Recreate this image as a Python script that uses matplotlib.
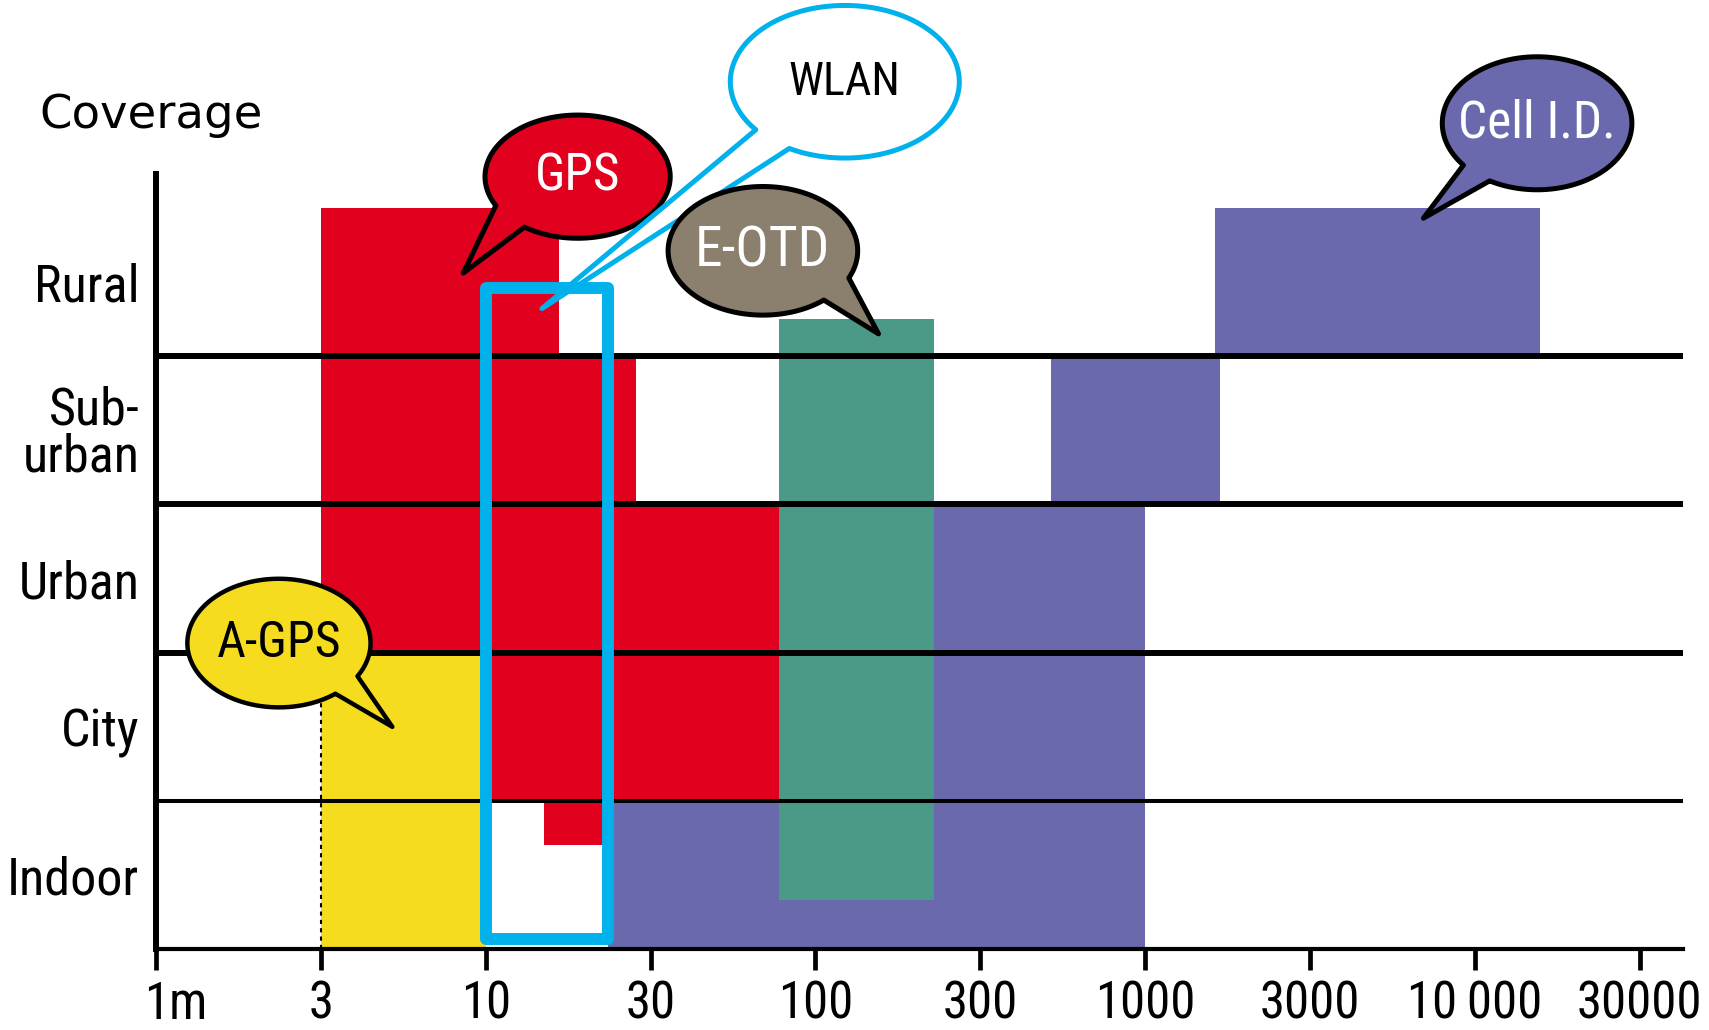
import numpy as np
import matplotlib
matplotlib.use("Agg")
import matplotlib.pyplot as plt
import matplotlib.transforms as mtransforms
from matplotlib import font_manager as fm
from matplotlib.patches import Polygon, Rectangle

# ---------------- data ----------------
band_labels = ["Indoor", "City", "Urban", "Sub-\nurban", "Rural"]
band_centers = [0.5, 1.5, 2.5, 3.5, 4.5]
band_lines = [1, 2, 3, 4]

tick_values = [1, 3.1623, 10, 31.623, 100, 316.23, 1000, 3162.3, 10000, 31623]
tick_labels = ["1m", "3", "10", "30", "100", "300", "1000", "3000", "10\u2009000", "30000"]

# GPS (red) coverage segments: accuracy range [x0, x1] per coverage band [y0, y1]
gps_x0 = [15.0, 10.0, 3.1623, 3.1623, 3.1623]
gps_x1 = [23.5, 78.0, 78.0, 28.5, 16.7]
gps_y0 = [0.706, 1.0, 2.0, 3.0, 4.0]
gps_y1 = [1.0, 2.0, 3.0, 4.0, 5.0]

# A-GPS (yellow)
agps_x0 = [3.1623]
agps_x1 = [10.0]
agps_y0 = [0.0]
agps_y1 = [2.0]

# Cell I.D. (purple)
cell_x0 = [23.5, 78.0, 518.0, 1630.0]
cell_x1 = [1000.0, 1000.0, 1690.0, 15800.0]
cell_y0 = [0.0, 1.0, 3.0, 4.0]
cell_y1 = [1.0, 3.0, 4.0, 5.0]

# E-OTD (teal)
eotd_x0 = [77.6]
eotd_x1 = [229.6]
eotd_y0 = [0.332]
eotd_y1 = [4.248]

# WLAN (blue outline)
wlan_x = [10.0, 23.5]
wlan_y = [0.07, 4.46]

# Callout bubbles: label, centre (data), tip (data)
bubble_names = ["GPS", "WLAN", "E-OTD", "Cell I.D.", "A-GPS"]
bubble_cx = [19.0, 122.8, 69.3, 15450.0, 2.36]
bubble_cy = [5.21, 5.85, 4.71, 5.57, 2.065]
bubble_tipx = [8.55, 14.8, 155.4, 6985.0, 5.21]
bubble_tipy = [4.56, 4.32, 4.15, 4.93, 1.50]

# ---------------- style ----------------
RED = "#E1001E"
YELLOW = "#F6DC1E"
PURPLE = "#6B69AD"
TEAL = "#4B9A88"
BROWN = "#8B7F6E"
BLUE = "#00B1EB"

names = {f.name for f in fm.fontManager.ttflist}
COND = None
for n in ["Liberation Sans Narrow", "Roboto Condensed", "Open Sans Condensed"]:
    if n in names:
        COND = n
        break
if COND is None:
    COND = "DejaVu Sans"
cond_font = dict(family=[COND, "DejaVu Sans"], stretch="condensed")

W, H = 1709, 1030
fig = plt.figure(figsize=(W / 100, H / 100), dpi=100)
fig.patch.set_facecolor("white")

ax = fig.add_axes([156 / W, 1 - 949.3 / H, 1527 / W, (949.3 - 174) / H])
ax.set_xscale("log")
ax.set_xlim(1, 10 ** ((1683 - 156) / 329.7))
ax.set_ylim(0, (949.3 - 174) / 148.3)


def draw_rects(x0, x1, y0, y1, color, z):
    for a, b, c, d in zip(x0, x1, y0, y1):
        ax.barh(c, b - a, left=a, height=d - c, align="edge",
                color=color, edgecolor="none", linewidth=0, zorder=z)


draw_rects(gps_x0, gps_x1, gps_y0, gps_y1, RED, 1)
draw_rects(agps_x0, agps_x1, agps_y0, agps_y1, YELLOW, 1)
draw_rects(cell_x0, cell_x1, cell_y0, cell_y1, PURPLE, 1)
draw_rects(eotd_x0, eotd_x1, eotd_y0, eotd_y1, TEAL, 2)

# dashed left edge of A-GPS
ax.plot([agps_x0[0], agps_x0[0]], [agps_y0[0], agps_y1[0]], color="black",
        lw=1.5, ls=(0, (2, 2)), zorder=3)

# band separators
band_lw = [2.9, 4.3, 4.3, 4.3]
for yv, lw in zip(band_lines, band_lw):
    ax.plot([1, ax.get_xlim()[1]], [yv, yv], color="black", lw=lw,
            solid_capstyle="butt", zorder=4)

# WLAN box
ax.add_patch(Rectangle((wlan_x[0], wlan_y[0]), wlan_x[1] - wlan_x[0],
                       wlan_y[1] - wlan_y[0], fill=False, edgecolor=BLUE,
                       lw=8.6, joinstyle="round", zorder=5))

# axes styling
for s in ["top", "right"]:
    ax.spines[s].set_visible(False)
ax.spines["left"].set_linewidth(4.3)
ax.spines["bottom"].set_linewidth(3.0)
ax.spines["left"].set_zorder(6)
ax.spines["bottom"].set_zorder(6)
ax.set_xticks(tick_values)
ax.set_xticklabels(tick_labels, fontsize=36.5, **cond_font)
ax.xaxis.set_minor_locator(matplotlib.ticker.NullLocator())
ax.tick_params(axis="x", direction="out", length=15, width=3.4, pad=7)
first = ax.get_xticklabels()[0]
first.set_horizontalalignment("left")
first.set_transform(first.get_transform() +
                    mtransforms.ScaledTranslation(-0.12, 0, fig.dpi_scale_trans))
ax.set_yticks(band_centers)
ax.set_yticklabels(band_labels, fontsize=37.5, **cond_font)
ax.tick_params(axis="y", length=0, pad=12)
for lbl in ax.get_yticklabels():
    lbl.set_linespacing(0.92)
ax.set_facecolor("none")

fig.text(39 / W, 1 - 128 / H, "Coverage", fontsize=33.5, family="DejaVu Sans",
         ha="left", va="baseline")

# ---------------- bubbles (overlay in pixel space) ----------------
ov = fig.add_axes([0, 0, 1, 1], zorder=10)
ov.set_xlim(0, W)
ov.set_ylim(H, 0)
ov.axis("off")
ov.patch.set_alpha(0)


def to_px(x, y):
    d = ax.transData.transform((x, y))
    return ov.transData.inverted().transform(d)


# per-bubble geometry (pixels): radii, tail base angles (deg, y-down), style
b_rx = [92.6, 114.5, 94.8, 94.8, 91.6]
b_ry = [61.6, 76.3, 64.3, 66.5, 64.3]
b_t1 = [125, 119, 25, 120, 31]
b_t2 = [152, 141, 50, 141, 52]
b_face = [RED, "white", BROWN, PURPLE, YELLOW]
b_edge = ["black", BLUE, "black", "black", "black"]
b_lw = [3.6, 3.6, 3.6, 3.6, 3.2]
b_tcol = ["white", "black", "white", "white", "black"]
b_fs = [37, 33, 40, 37, 36]

for i, name in enumerate(bubble_names):
    cx, cy = to_px(bubble_cx[i], bubble_cy[i])
    tx, ty = to_px(bubble_tipx[i], bubble_tipy[i])
    rx, ry = b_rx[i], b_ry[i]
    t = np.radians(np.linspace(b_t2[i], b_t1[i] + 360, 200))
    arc = np.column_stack([cx + rx * np.cos(t), cy + ry * np.sin(t)])
    verts = np.vstack([arc, [[tx, ty]]])
    if name == "WLAN":
        ov.add_patch(Polygon(arc, closed=True, facecolor="white",
                             edgecolor="none", zorder=1))
        ov.add_patch(Polygon(verts, closed=True, fill=False,
                             edgecolor=b_edge[i], lw=b_lw[i],
                             joinstyle="round", zorder=2))
    else:
        ov.add_patch(Polygon(verts, closed=True, facecolor=b_face[i],
                             edgecolor=b_edge[i], lw=b_lw[i],
                             joinstyle="round", zorder=2))
    ov.text(cx, cy, name, color=b_tcol[i], fontsize=b_fs[i], ha="center",
            va="center", zorder=3, **cond_font)

fig.savefig("out.png", dpi=100, facecolor="white")
